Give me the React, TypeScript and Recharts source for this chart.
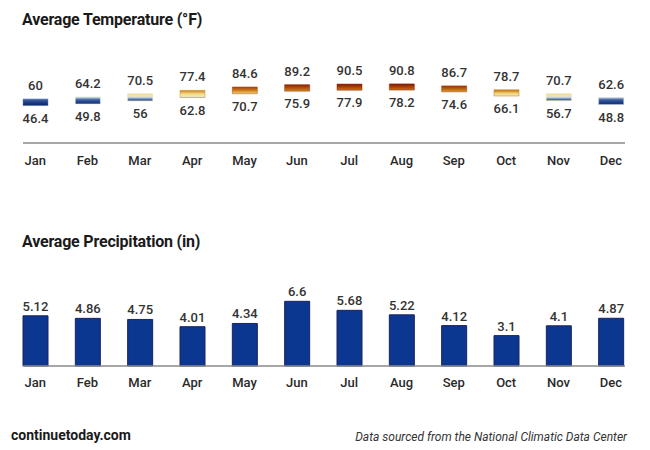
import { Bar, BarChart, Cell, LabelList, XAxis, YAxis } from "recharts";

const months = ["Jan", "Feb", "Mar", "Apr", "May", "Jun", "Jul", "Aug", "Sep", "Oct", "Nov", "Dec"];
const highs = [60, 64.2, 70.5, 77.4, 84.6, 89.2, 90.5, 90.8, 86.7, 78.7, 70.7, 62.6];
const lows = [46.4, 49.8, 56, 62.8, 70.7, 75.9, 77.9, 78.2, 74.6, 66.1, 56.7, 48.8];
const precip = [5.12, 4.86, 4.75, 4.01, 4.34, 6.6, 5.68, 5.22, 4.12, 3.1, 4.1, 4.87];

const tempData = months.map((m, i) => ({ month: m, range: [lows[i], highs[i]], high: highs[i], low: lows[i] }));
const precipData = months.map((m, i) => ({ month: m, precip: precip[i] }));

// temperature -> colour ramp used for the bar gradients
const ramp: [number, number[]][] = [
  [46, [10, 36, 102]],
  [52, [24, 56, 128]],
  [58, [60, 92, 158]],
  [60, [100, 130, 182]],
  [62, [160, 184, 214]],
  [64, [222, 232, 214]],
  [67, [242, 230, 176]],
  [71, [240, 214, 140]],
  [74, [224, 172, 60]],
  [78, [200, 120, 24]],
  [83, [174, 78, 12]],
  [90, [136, 28, 6]],
];

function tempColor(t: number) {
  if (t <= ramp[0][0]) return `rgb(${ramp[0][1].join(",")})`;
  for (let i = 1; i < ramp.length; i++) {
    if (t <= ramp[i][0]) {
      const [t0, c0] = ramp[i - 1];
      const [t1, c1] = ramp[i];
      const k = (t - t0) / (t1 - t0);
      const c = c0.map((v, j) => Math.round(v + (c1[j] - v) * k));
      return `rgb(${c.join(",")})`;
    }
  }
  return `rgb(${ramp[ramp.length - 1][1].join(",")})`;
}

const font = "Roboto, 'Noto Sans', sans-serif";
const axisLine = { stroke: "#8a8a8a", strokeWidth: 1.5 };
const tick = { fontSize: 13, fill: "#2a2a2a", fontWeight: 500, fontFamily: font };
const labelStyle = { fontSize: 13, fill: "#333", fontWeight: 500, fontFamily: font };

export default function App() {
  return (
    <div style={{ position: "absolute", left: 0, top: 0, width: 650, height: 450, background: "#fff", fontFamily: font }}>
      <div style={{ position: "absolute", left: 22, top: 10, fontSize: 16, fontWeight: 700, color: "#1a1a1a", letterSpacing: -0.2 }}>
        Average Temperature (°F)
      </div>
      <div style={{ position: "absolute", left: 0, top: 0 }}>
        <BarChart width={650} height={180} data={tempData} margin={{ top: 69.6, right: 25, left: 23, bottom: 7 }}>
          <defs>
            {tempData.map((d, i) => {
              const n = 6;
              return (
                <linearGradient key={i} id={`tg${i}`} x1="0" y1="0" x2="0" y2="1">
                  {Array.from({ length: n + 1 }, (_, k) => {
                    const t = d.high - ((d.high - d.low) * k) / n;
                    return <stop key={k} offset={`${(k / n) * 100}%`} stopColor={tempColor(t)} />;
                  })}
                </linearGradient>
              );
            })}
          </defs>
          <XAxis dataKey="month" tickLine={false} axisLine={axisLine} tick={tick} tickMargin={7} padding={{ left: -14, right: -12 }} />
          <YAxis hide domain={[-30, 120]} />
          <Bar dataKey="range" barSize={25} isAnimationActive={false} strokeWidth={0.8}>
            {tempData.map((d, i) => (
              <Cell key={i} fill={`url(#tg${i})`} stroke={tempColor(d.high)} strokeOpacity={0.6} />
            ))}
            <LabelList dataKey="high" position="top" offset={9} style={labelStyle} />
            <LabelList dataKey="low" position="bottom" offset={8} style={labelStyle} />
          </Bar>
        </BarChart>
      </div>

      <div style={{ position: "absolute", left: 22, top: 232, fontSize: 16, fontWeight: 700, color: "#1a1a1a", letterSpacing: -0.2 }}>
        Average Precipitation (in)
      </div>
      <div style={{ position: "absolute", left: 0, top: 200 }}>
        <BarChart width={650} height={200} data={precipData} margin={{ top: 87.6, right: 25, left: 23, bottom: 4 }}>
          <XAxis dataKey="month" tickLine={false} axisLine={axisLine} tick={tick} tickMargin={6} padding={{ left: -14, right: -12 }} />
          <YAxis hide domain={[0, 8]} />
          <Bar dataKey="precip" barSize={25} fill="#0c3791" stroke="#1b2260" strokeWidth={1} isAnimationActive={false}>
            <LabelList dataKey="precip" position="top" offset={5} style={labelStyle} />
          </Bar>
        </BarChart>
      </div>

      <div style={{ position: "absolute", left: 11, top: 427, fontSize: 14, fontWeight: 700, color: "#1a1a1a" }}>
        continuetoday.com
      </div>
      <div style={{ position: "absolute", right: 23, top: 430, fontSize: 12, fontStyle: "italic", color: "#333" }}>
        Data sourced from the National Climatic Data Center
      </div>
    </div>
  );
}
